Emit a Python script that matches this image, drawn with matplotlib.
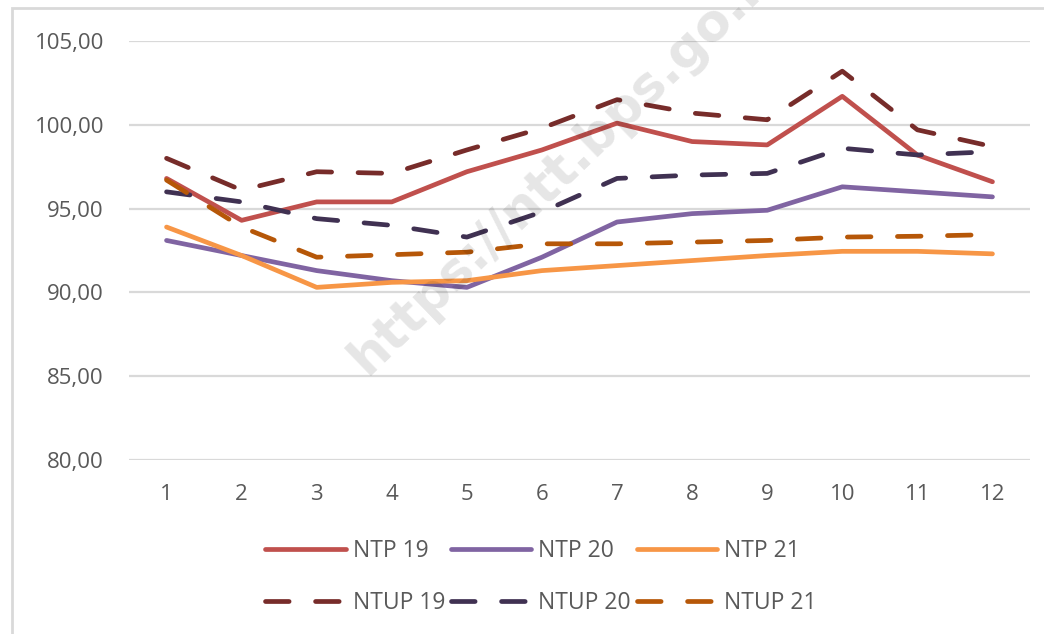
import matplotlib
matplotlib.use("Agg")
import matplotlib.pyplot as plt
from matplotlib.patches import Rectangle

months = list(range(1, 13))

ntp19 = [96.8, 94.3, 95.4, 95.4, 97.2, 98.5, 100.1, 99.0, 98.8, 101.7, 98.2, 96.6]
ntp20 = [93.1, 92.2, 91.3, 90.7, 90.3, 92.1, 94.2, 94.7, 94.9, 96.3, 96.0, 95.7]
ntp21 = [93.9, 92.2, 90.3, 90.6, 90.7, 91.3, 91.6, 91.9, 92.2, 92.45, 92.45, 92.3]
ntup19 = [98.0, 96.1, 97.2, 97.1, 98.5, 99.8, 101.5, 100.7, 100.3, 103.2, 99.7, 98.7]
ntup20 = [96.0, 95.4, 94.4, 94.0, 93.3, 94.8, 96.8, 97.0, 97.1, 98.6, 98.2, 98.4]
ntup21 = [96.7, 93.9, 92.1, 92.25, 92.4, 92.9, 92.9, 93.0, 93.1, 93.3, 93.35, 93.45]

y_ticks = [80, 85, 90, 95, 100, 105]

plt.rcParams['font.family'] = ['Open Sans', 'DejaVu Sans']
text_col = '#595959'

fig = plt.figure(figsize=(10.44, 6.34), dpi=100)
ax = fig.add_axes([129/1044, 1 - 460/634, 901/1044, 419/634])

# outer chart frame
fig.patches.append(Rectangle((12/1044, -0.1), 1.2, 1 - 8/634 + 0.1,
                             transform=fig.transFigure, fill=False,
                             edgecolor='#D9D9D9', lw=2, zorder=0))

lw = 3.4
solid = dict(lw=lw, solid_capstyle='round', solid_joinstyle='round')
dash = dict(lw=lw, dashes=(5, 5.6), dash_capstyle='round', dash_joinstyle='round')

h1, = ax.plot(months, ntp19, color='#C0504D', label='NTP 19', **solid)
h2, = ax.plot(months, ntp20, color='#8064A2', label='NTP 20', **solid)
h3, = ax.plot(months, ntp21, color='#F79646', label='NTP 21', **solid)
h4, = ax.plot(months, ntup19, color='#772C2A', label='NTUP 19', **dash)
h5, = ax.plot(months, ntup20, color='#403152', label='NTUP 20', **dash)
h6, = ax.plot(months, ntup21, color='#B65708', label='NTUP 21', **dash)

ax.set_xlim(0.5, 12.5)
ax.set_ylim(80, 105)
ax.set_xticks(months)
ax.set_yticks(y_ticks)
ax.set_yticklabels([f"{v:.2f}".replace('.', ',') for v in y_ticks])
ax.tick_params(length=0, labelsize=16, labelcolor=text_col)
ax.tick_params(axis='y', pad=18)
ax.tick_params(axis='x', pad=17)
ax.grid(axis='y', color='#D9D9D9', lw=1.6)
ax.set_axisbelow(True)
for s in ax.spines.values():
    s.set_visible(False)

leg = fig.legend([h1, h4, h2, h5, h3, h6],
                 ['NTP 19', 'NTUP 19', 'NTP 20', 'NTUP 20', 'NTP 21', 'NTUP 21'],
                 ncol=3, loc='center', bbox_to_anchor=(541/1044, 1 - 577/634),
                 frameon=False, fontsize=16.5, handlelength=3.5, handletextpad=0.3,
                 columnspacing=0.27, labelspacing=1.2)
for t in leg.get_texts():
    t.set_color(text_col)

# watermark (cut by the top edge, as in the source image)
fig.text(568/1044, 1 - 162/634, 'https://ntt.bps.go.id', rotation=44,
         fontsize=37, fontweight='bold', color='#000000', alpha=0.1,
         ha='center', va='center', family='DejaVu Sans')

fig.savefig('out.png', dpi=100)
